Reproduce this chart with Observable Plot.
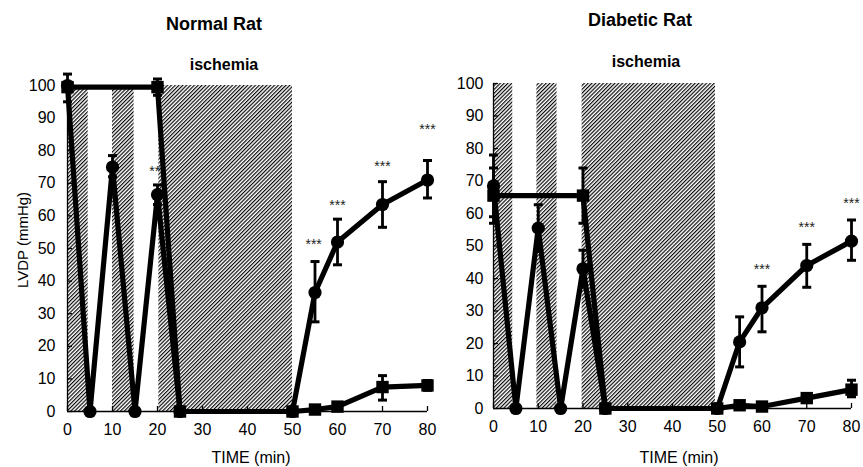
<!DOCTYPE html>
<html><head><meta charset="utf-8">
<script src="https://cdn.jsdelivr.net/npm/d3@7"></script>
<script src="https://cdn.jsdelivr.net/npm/@observablehq/plot@0.6"></script>
<style>
body{margin:0;background:#fff;}
#wrap{position:relative;width:863px;height:467px;overflow:hidden;background:#fff;}
#wrap > svg{position:absolute;top:0;}
#wrap g[aria-label="x-axis tick label"], #wrap g[aria-label="y-axis tick label"]{font-size:16px;}
</style></head><body><div id="wrap"></div>
<script>
// ---- data ----
const xTicks = [0, 10, 20, 30, 40, 50, 60, 70, 80];
const yTicks = [0, 10, 20, 30, 40, 50, 60, 70, 80, 90, 100];

// Normal rat
const normalTime = [0, 5, 10, 15, 20, 25, 50, 55, 60, 70, 80];
const normalCircle = [100, 0, 75, 0, 66.5, 0, 0, 36.5, 52, 63.5, 71];
const normalCircleHi = [null, null, 78.5, null, 69.5, null, null, 46, 59, 70.5, 77];
const normalCircleLo = [null, null, 72, null, 63.5, null, null, 27.5, 45, 56.5, 65.5];
const normalSquareTime = [0, 20, 25, 50, 55, 60, 70, 80];
const normalSquare = [99.5, 99.5, 0, 0, 0.6, 1.5, 7.5, 8];
const normalSquareHi = [103.5, 102, null, null, null, null, 11, 9.5];
const normalSquareLo = [95, 97, null, null, null, null, 3.5, 6.5];
const normalBandStart = [0, 10, 20.3];
const normalBandEnd = [4.6, 14.8, 50];
const normalStarX = [20, 54.7, 60, 70, 80];
const normalStarY = [73.5, 51.2, 63.2, 75.2, 86.5];

// Diabetic rat
const diabeticTime = [0, 5, 10, 15, 20, 25, 50, 55, 60, 70, 80];
const diabeticCircle = [68.5, 0, 55.5, 0, 43, 0, 0, 20.5, 31, 44, 51.5];
const diabeticCircleHi = [78, null, 62.7, null, 48.7, null, null, 28.2, 37.6, 50.5, 58];
const diabeticCircleLo = [59, null, 48.3, null, 37.3, null, null, 12.8, 23.6, 37.3, 45.6];
const diabeticSquareTime = [0, 20, 25, 50, 55, 60, 70, 80];
const diabeticSquare = [65.5, 65.5, 0, 0, 1, 0.6, 3.2, 5.8];
const diabeticSquareHi = [74, 74, null, null, null, null, 4.5, 8.7];
const diabeticSquareLo = [57, 57, null, null, null, null, 2, 3.6];
const diabeticBandStart = [0, 9.7, 19.8];
const diabeticBandEnd = [4.3, 14.2, 49.6];
const diabeticStarX = [60, 70, 80];
const diabeticStarY = [42.9, 55.8, 63.2];

const FONT = '"Liberation Sans", Arial, Helvetica, sans-serif';

const capSymbol = {
  draw(ctx, size) {
    const r = Math.sqrt(size / Math.PI);
    ctx.moveTo(-r, 0);
    ctx.lineTo(r, 0);
  }
};

function panel(cfg) {
  const H = 467;
  const plotW = cfg.width - cfg.ml - cfg.mr;
  const plotH = H - cfg.mt - cfg.mb;
  const circ = cfg.time.map((t, i) => ({x: t, y: cfg.circle[i], hi: cfg.cHi[i], lo: cfg.cLo[i]}));
  const sq = cfg.sTime.map((t, i) => ({x: t, y: cfg.square[i], hi: cfg.sHi[i], lo: cfg.sLo[i]}));
  const err = [...circ, ...sq].filter(d => d.hi != null);
  const caps = err.flatMap(d => [{x: d.x, y: d.hi}, {x: d.x, y: d.lo}]);
  const bands = cfg.bandStart.map((s, i) => ({x1: s, x2: cfg.bandEnd[i]}));
  const stars = cfg.starX.map((x, i) => ({x, y: cfg.starY[i]}));

  const svg = Plot.plot({
    width: cfg.width, height: H,
    marginLeft: cfg.ml, marginRight: cfg.mr, marginTop: cfg.mt, marginBottom: cfg.mb,
    style: {background: "transparent", overflow: "visible", fontFamily: FONT, fontSize: "16px", color: "black"},
    x: {domain: [0, 80]},
    y: {domain: [0, 100]},
    marks: [
      Plot.rect(bands, {x1: "x1", x2: "x2", y1: 0, y2: 100, fill: `url(#${cfg.id})`}),
      Plot.ruleY([0], {x1: 0, x2: 80, stroke: "black", strokeWidth: 1.3}),
      Plot.ruleX([0], {y1: 0, y2: 100, stroke: "black", strokeWidth: 1.3}),
      Plot.tickY(yTicks, {y: d => d, insetRight: plotW - 5, stroke: "black", strokeWidth: 1.3}),
      Plot.tickX(xTicks, {x: d => d, insetTop: plotH - 5, stroke: "black", strokeWidth: 1.3}),
      Plot.axisX(xTicks, {tickSize: 0, tickPadding: 12, label: null}),
      Plot.axisY(yTicks, {tickSize: 0, tickPadding: cfg.yPad, label: null}),
      Plot.text(stars, {x: "x", y: "y", text: () => "***", fontSize: 14, fill: "#222"}),
      Plot.line(circ, {x: "x", y: "y", stroke: "black", strokeWidth: 5.2, strokeLinejoin: "round"}),
      Plot.line(sq, {x: "x", y: "y", stroke: "black", strokeWidth: 5.2, strokeLinejoin: "round"}),
      Plot.ruleX(err, {x: "x", y1: "lo", y2: "hi", stroke: "black", strokeWidth: 2.8}),
      Plot.dot(caps, {x: "x", y: "y", symbol: capSymbol, r: 4.5, stroke: "black", strokeWidth: 3, fill: "none"}),
      Plot.dot(circ, {x: "x", y: "y", r: 6.6, fill: "black", stroke: "none"}),
      Plot.dot(sq, {x: "x", y: "y", symbol: "square", r: 7, fill: "black", stroke: "none"})
    ]
  });
  const s = d3.select(svg);
  const defs = s.insert("defs", ":first-child");
  const pat = defs.append("pattern")
    .attr("id", cfg.id)
    .attr("patternUnits", "userSpaceOnUse")
    .attr("width", 2.7).attr("height", 6)
    .attr("patternTransform", "rotate(45)");
  pat.append("rect").attr("width", 2.7).attr("height", 6).attr("fill", "white");
  pat.append("line").attr("x1", 0.6).attr("y1", -1).attr("x2", 0.6).attr("y2", 7)
    .attr("stroke", "black").attr("stroke-width", 1.15);
  svg.style.left = cfg.left + "px";
  return svg;
}

const wrap = document.getElementById("wrap");
wrap.appendChild(panel({
  id: "hatchN", left: 0, width: 440, ml: 67, mr: 13, mt: 85, mb: 56, yPad: 12,
  time: normalTime, circle: normalCircle, cHi: normalCircleHi, cLo: normalCircleLo,
  sTime: normalSquareTime, square: normalSquare, sHi: normalSquareHi, sLo: normalSquareLo,
  bandStart: normalBandStart, bandEnd: normalBandEnd, starX: normalStarX, starY: normalStarY
}));
wrap.appendChild(panel({
  id: "hatchD", left: 430, width: 433, ml: 63, mr: 12, mt: 83, mb: 59, yPad: 10,
  time: diabeticTime, circle: diabeticCircle, cHi: diabeticCircleHi, cLo: diabeticCircleLo,
  sTime: diabeticSquareTime, square: diabeticSquare, sHi: diabeticSquareHi, sLo: diabeticSquareLo,
  bandStart: diabeticBandStart, bandEnd: diabeticBandEnd, starX: diabeticStarX, starY: diabeticStarY
}));

// text overlay
const labels = [
  {t: "Normal Rat", x: 214, y: 30, size: 18, weight: "bold"},
  {t: "Diabetic Rat", x: 640, y: 26, size: 18, weight: "bold"},
  {t: "ischemia", x: 224, y: 70, size: 16, weight: "bold"},
  {t: "ischemia", x: 646, y: 67, size: 16, weight: "bold"},
  {t: "TIME (min)", x: 251, y: 463, size: 16, weight: "normal"},
  {t: "TIME (min)", x: 679, y: 463, size: 16, weight: "normal"}
];
const ov = d3.select(wrap).append("svg")
  .attr("width", 863).attr("height", 467)
  .style("left", "0px").style("pointer-events", "none")
  .style("font-family", FONT);
ov.selectAll("text.l").data(labels).join("text")
  .attr("class", "l")
  .attr("x", d => d.x).attr("y", d => d.y)
  .attr("text-anchor", "middle")
  .attr("font-size", d => d.size).attr("font-weight", d => d.weight)
  .attr("fill", "black")
  .text(d => d.t);
ov.append("text")
  .attr("transform", "translate(28,240) rotate(-90)")
  .attr("text-anchor", "middle")
  .attr("font-size", 15).attr("fill", "black")
  .text("LVDP (mmHg)");
</script>
</body></html>
